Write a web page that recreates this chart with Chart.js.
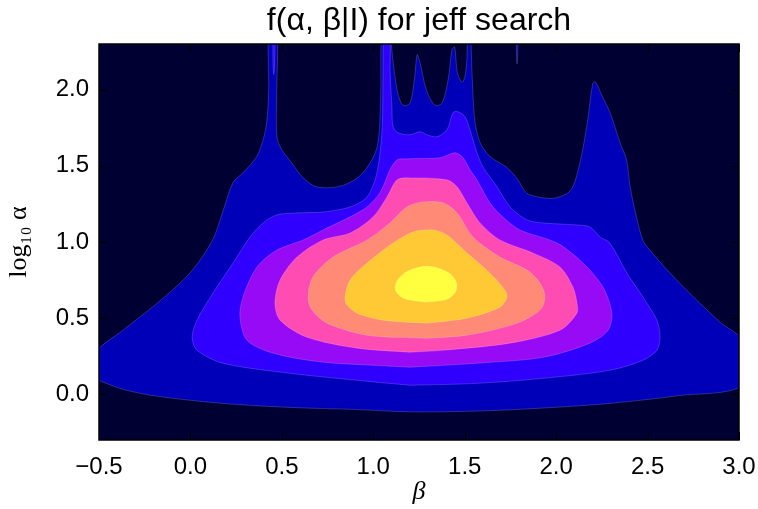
<!DOCTYPE html>
<html>
<head>
<meta charset="utf-8">
<script src="https://cdn.jsdelivr.net/npm/chart.js@4.4.0/dist/chart.umd.min.js"></script>
<style>
  html, body { margin: 0; padding: 0; background: #fff; }
</style>
</head>
<body>
<canvas id="myChart" width="758" height="509"></canvas>
<script>
// contour outlines, as [beta, log10 alpha] pairs
// level 1 (outer blue)
var level1 = [
  [-0.52, 0.10], [-0.52, 0.27], [-0.37, 0.42], [-0.18, 0.60], [0.00, 0.80],
  [0.12, 1.01], [0.18, 1.21], [0.233, 1.39], [0.287, 1.454], [0.362, 1.56],
  [0.397, 1.67], [0.417, 1.78], [0.428, 2.00], [0.43, 2.40], [0.472, 2.40],
  [0.472, 2.00], [0.473, 1.69], [0.50, 1.605], [0.554, 1.52], [0.61, 1.43],
  [0.69, 1.362], [0.83, 1.37], [0.94, 1.45], [1.02, 1.62], [1.04, 1.95],
  [1.05, 2.40], [1.10, 2.40], [1.10, 2.28], [1.13, 2.00], [1.16, 1.90],
  [1.20, 1.91], [1.225, 2.07], [1.24, 2.23], [1.255, 2.18], [1.29, 2.00],
  [1.335, 1.90], [1.375, 1.91], [1.41, 2.07], [1.43, 2.26], [1.445, 2.28],
  [1.46, 2.11], [1.485, 2.05], [1.50, 2.08], [1.512, 2.20], [1.518, 2.40],
  [1.53, 2.40], [1.54, 2.11], [1.555, 1.80], [1.585, 1.65], [1.64, 1.56],
  [1.73, 1.49], [1.79, 1.41], [1.84, 1.32], [1.93, 1.29], [2.00, 1.29],
  [2.08, 1.34], [2.13, 1.52], [2.17, 1.78], [2.20, 2.04], [2.215, 2.05],
  [2.255, 1.95], [2.295, 1.85], [2.35, 1.65], [2.385, 1.54], [2.405, 1.36],
  [2.44, 1.16], [2.475, 1.01], [2.51, 0.95], [2.62, 0.80], [2.75, 0.64],
  [2.90, 0.47], [3.02, 0.35], [3.02, 0.06], [2.66, -0.01], [2.29, -0.06],
  [1.93, -0.09], [1.57, -0.11], [1.20, -0.115], [0.91, -0.10], [0.545, -0.086],
  [0.18, -0.06], [-0.18, -0.013], [-0.37, 0.033], [-0.52, 0.10]
];
var level1Sliver = [[1.780, 2.40], [1.786, 2.17], [1.792, 2.40], [1.780, 2.40]];
// level 2 (violet blue)
var level2 = [
  [1.201, 0.059], [0.911, 0.092], [0.545, 0.138], [0.178, 0.204], [0.036, 0.289],
  [0.009, 0.375], [0.036, 0.487], [0.123, 0.664], [0.233, 0.862], [0.326, 1.033],
  [0.397, 1.125], [0.473, 1.178], [0.583, 1.191], [0.725, 1.197], [0.873, 1.23],
  [0.966, 1.296], [1.02, 1.454], [1.048, 1.737], [1.053, 2.066], [1.06, 2.40],
  [1.09, 2.40], [1.092, 2.112], [1.102, 1.888], [1.108, 1.757], [1.135, 1.717],
  [1.201, 1.704], [1.255, 1.724], [1.294, 1.704], [1.348, 1.691], [1.403, 1.737],
  [1.436, 1.849], [1.463, 1.855], [1.502, 1.822], [1.529, 1.737], [1.567, 1.586],
  [1.60, 1.493], [1.677, 1.362], [1.748, 1.23], [1.841, 1.145], [1.928, 1.125],
  [2.114, 1.112], [2.185, 1.099], [2.24, 1.033], [2.294, 0.993], [2.387, 0.796],
  [2.475, 0.638], [2.551, 0.487], [2.568, 0.375], [2.551, 0.289], [2.475, 0.224],
  [2.294, 0.158], [1.928, 0.105], [1.567, 0.072], [1.201, 0.059]
];
var level2Spike = [[0.450, 2.40], [0.452, 2.15], [0.456, 2.10], [0.460, 2.15], [0.462, 2.40], [0.450, 2.40]];
// level 3 (purple)
var level3 = [
  [1.201, 0.178], [0.998, 0.191], [0.725, 0.211], [0.452, 0.27], [0.309, 0.355],
  [0.271, 0.507], [0.287, 0.638], [0.364, 0.836], [0.473, 0.947], [0.616, 1.013],
  [0.725, 1.079], [0.944, 1.211], [1.02, 1.296], [1.053, 1.362], [1.091, 1.474],
  [1.13, 1.539], [1.184, 1.546], [1.365, 1.553], [1.447, 1.586], [1.491, 1.553],
  [1.529, 1.474], [1.567, 1.408], [1.638, 1.257], [1.709, 1.164], [1.802, 1.079],
  [2.005, 0.993], [2.147, 0.862], [2.256, 0.704], [2.305, 0.533], [2.284, 0.421],
  [2.185, 0.336], [1.928, 0.243], [1.567, 0.204], [1.201, 0.178]
];
// level 4 (pink)
var level4 = [
  [1.201, 0.276], [0.911, 0.303], [0.637, 0.375], [0.49, 0.487], [0.462, 0.599],
  [0.49, 0.75], [0.583, 0.901], [0.725, 1.013], [0.873, 1.059], [0.998, 1.164],
  [1.075, 1.296], [1.13, 1.408], [1.201, 1.421], [1.403, 1.408], [1.458, 1.362],
  [1.512, 1.257], [1.584, 1.125], [1.693, 1.013], [1.873, 0.928], [2.021, 0.836],
  [2.092, 0.704], [2.114, 0.599], [2.114, 0.533], [2.021, 0.421], [1.748, 0.336],
  [1.381, 0.289], [1.201, 0.276]
];
// level 5 (salmon)
var level5 = [
  [1.294, 0.368], [0.966, 0.388], [0.747, 0.467], [0.665, 0.553], [0.643, 0.638],
  [0.67, 0.77], [0.78, 0.901], [0.966, 1.013], [1.091, 1.125], [1.184, 1.23],
  [1.272, 1.263], [1.381, 1.257], [1.458, 1.191], [1.545, 1.033], [1.693, 0.901],
  [1.841, 0.816], [1.912, 0.73], [1.939, 0.638], [1.912, 0.553], [1.786, 0.467],
  [1.513, 0.388], [1.294, 0.368]
];
// level 6 (orange)
var level6 = [
  [1.294, 0.467], [1.053, 0.487], [0.911, 0.533], [0.856, 0.586], [0.845, 0.638],
  [0.873, 0.75], [0.966, 0.862], [1.108, 0.993], [1.217, 1.066], [1.327, 1.079],
  [1.403, 1.046], [1.513, 0.928], [1.638, 0.796], [1.72, 0.684], [1.731, 0.638],
  [1.693, 0.572], [1.513, 0.50], [1.294, 0.467]
];
// level 7 (yellow peak)
var level7 = [
  [1.29, 0.605], [1.40, 0.622], [1.45, 0.672], [1.455, 0.735], [1.41, 0.80],
  [1.30, 0.842], [1.19, 0.81], [1.13, 0.745], [1.122, 0.68], [1.17, 0.628],
  [1.29, 0.605]
];

var levelColors = ['#000033', '#0000b8', '#3000ff', '#970af5', '#ff4cb3', '#ff8a75', '#ffc835', '#ffff40'];
var xTicks = [-0.5, 0.0, 0.5, 1.0, 1.5, 2.0, 2.5, 3.0];
var yTicks = [0.0, 0.5, 1.0, 1.5, 2.0];

var pieces = [
  {pts: level1, lvl: 1}, {pts: level1Sliver, lvl: 1},
  {pts: level2, lvl: 2}, {pts: level2Spike, lvl: 2},
  {pts: level3, lvl: 3}, {pts: level4, lvl: 4},
  {pts: level5, lvl: 5}, {pts: level6, lvl: 6},
  {pts: level7, lvl: 7}
];

var datasets = pieces.map(function(p){
  return {
    data: p.pts.map(function(d){ return {x: d[0], y: d[1]}; }),
    showLine: true,
    fill: 'shape',
    backgroundColor: levelColors[p.lvl],
    borderColor: 'rgba(255,255,255,0.25)',
    borderWidth: 0.7,
    pointRadius: 0,
    pointHoverRadius: 0,
    tension: 0.3,
    order: 10 - p.lvl
  };
});

// dark background of the lowest level + frame with inward ticks
var frame = {
  id: 'frame',
  beforeDatasetsDraw: function(chart){
    var a = chart.chartArea, ctx = chart.ctx;
    ctx.save();
    ctx.fillStyle = levelColors[0];
    ctx.fillRect(a.left, a.top, a.right - a.left, a.bottom - a.top);
    ctx.restore();
  },
  afterDatasetsDraw: function(chart){
    var a = chart.chartArea, ctx = chart.ctx;
    var xs = chart.scales.x, ys = chart.scales.y;
    ctx.save();
    ctx.strokeStyle = '#000';
    ctx.lineWidth = 1;
    ctx.beginPath();
    xTicks.forEach(function(v){
      var px = Math.round(xs.getPixelForValue(v)) + 0.5;
      ctx.moveTo(px, a.bottom); ctx.lineTo(px, a.bottom - 8);
      ctx.moveTo(px, a.top); ctx.lineTo(px, a.top + 8);
    });
    yTicks.forEach(function(v){
      var py = Math.round(ys.getPixelForValue(v)) + 0.5;
      ctx.moveTo(a.left, py); ctx.lineTo(a.left + 8, py);
      ctx.moveTo(a.right, py); ctx.lineTo(a.right - 8, py);
    });
    ctx.stroke();
    ctx.lineWidth = 1.5;
    ctx.strokeRect(a.left, a.top, a.right - a.left, a.bottom - a.top);
    ctx.restore();
  }
};

function fmt(v){ return Number(v).toFixed(1).replace('-', '\u2212'); }

new Chart(document.getElementById('myChart').getContext('2d'), {
  type: 'scatter',
  data: { datasets: datasets },
  options: {
    responsive: false,
    animation: false,
    events: [],
    layout: { padding: { top: 0, right: 19, bottom: 0, left: 0 } },
    plugins: {
      legend: { display: false },
      tooltip: { enabled: false },
      title: {
        display: true,
        text: 'f(\u03b1, \u03b2|I) for jeff search',
        fullSize: false,
        color: '#000',
        font: { family: 'Liberation Sans', size: 32, weight: 'normal' },
        padding: { top: 2, bottom: 3.6 }
      }
    },
    scales: {
      x: {
        type: 'linear',
        min: -0.5, max: 3.0,
        afterBuildTicks: function(s){ s.ticks = xTicks.map(function(v){ return {value: v}; }); },
        afterFit: function(s){ s.height = 69; s.paddingLeft = 0; s.paddingRight = 0; },
        grid: { display: false, drawTicks: false },
        border: { display: false },
        ticks: {
          color: '#000', padding: 13, maxRotation: 0, autoSkip: false,
          font: { family: 'Liberation Sans', size: 24 },
          callback: function(v){ return fmt(v); }
        },
        title: {
          display: true, text: '\u03b2', color: '#000',
          font: { family: 'Liberation Serif', style: 'italic', size: 26 },
          padding: { top: 0, bottom: 1 }
        }
      },
      y: {
        type: 'linear',
        min: -0.3, max: 2.3,
        afterBuildTicks: function(s){ s.ticks = yTicks.map(function(v){ return {value: v}; }); },
        afterFit: function(s){ s.width = 99; s.paddingTop = 0; s.paddingBottom = 0; },
        grid: { display: false, drawTicks: false },
        border: { display: false },
        ticks: {
          color: '#000', padding: 10, autoSkip: false,
          font: { family: 'Liberation Sans', size: 24 },
          callback: function(v){ return fmt(v); }
        },
        title: {
          display: true, text: 'log\u2081\u2080 \u03b1', color: '#000',
          font: { family: 'Liberation Serif', size: 26 },
          padding: { top: 4, bottom: 0 }
        }
      }
    }
  },
  plugins: [frame]
});
</script>
</body>
</html>
